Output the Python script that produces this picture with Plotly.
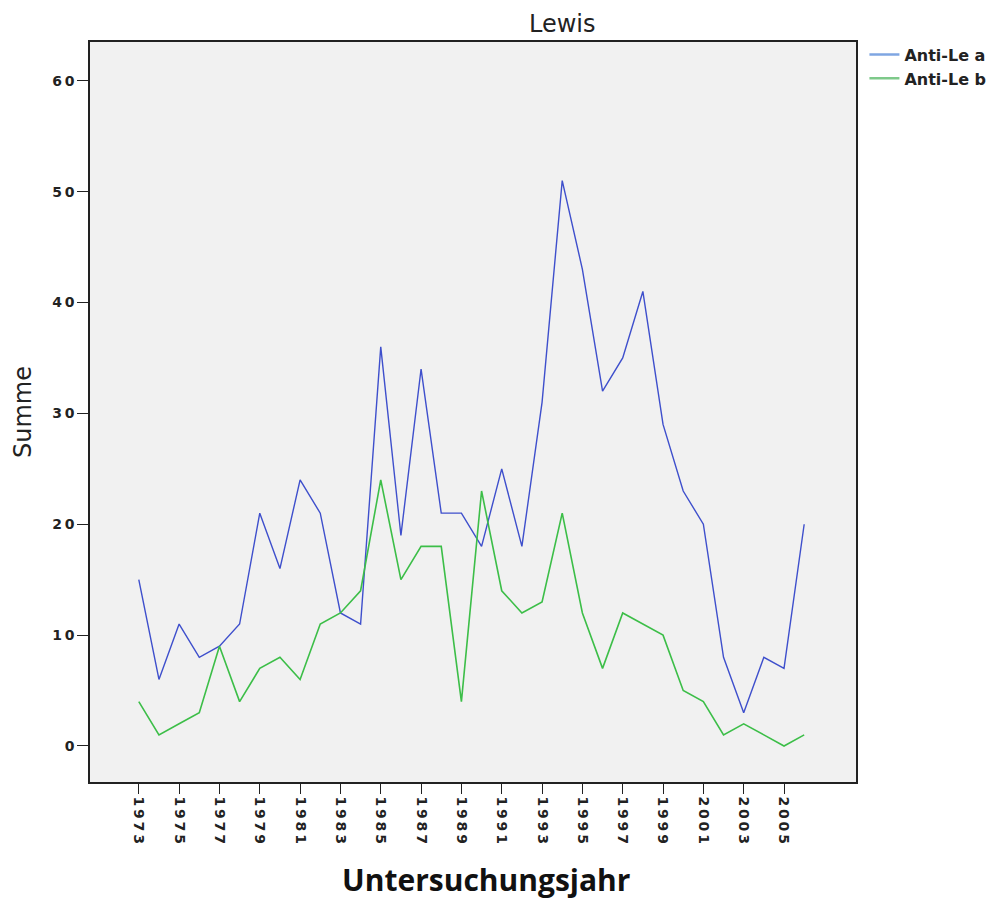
import plotly.graph_objects as go

years = list(range(1973, 2007))
anti_le_a = [15, 6, 11, 8, 9, 11, 21, 16, 24, 21, 12, 11, 36, 19, 34, 21, 21, 18,
             25, 18, 31, 51, 43, 32, 35, 41, 29, 23, 20, 8, 3, 8, 7, 20]
anti_le_b = [4, 1, 2, 3, 9, 4, 7, 8, 6, 11, 12, 14, 24, 15, 18, 18, 4, 23,
             14, 12, 13, 21, 12, 7, 12, 11, 10, 5, 4, 1, 2, 1, 0, 1]
x_ticks = list(range(1973, 2006, 2))
y_ticks = [0, 10, 20, 30, 40, 50, 60]

THIN = "\u2009"


def spaced(v):
    return THIN.join(str(v))


fig = go.Figure()
fig.add_trace(go.Scatter(x=years, y=anti_le_a, mode="lines", name="Anti-Le a",
                         line=dict(color="#3E4FCC", width=1.4), showlegend=False))
fig.add_trace(go.Scatter(x=years, y=anti_le_b, mode="lines", name="Anti-Le b",
                         line=dict(color="#3CBE48", width=1.6), showlegend=False))
# legend entries (lighter legend swatches as in the reference)
fig.add_trace(go.Scatter(x=[None], y=[None], mode="lines", name="Anti-Le a",
                         line=dict(color="#7FA6E2", width=2.5)))
fig.add_trace(go.Scatter(x=[None], y=[None], mode="lines", name="Anti-Le b",
                         line=dict(color="#7EC98A", width=2.5)))

tickfont = dict(family="DejaVu Sans", size=14, weight="bold", color="#222")

fig.update_layout(
    width=995, height=901,
    margin=dict(l=82, r=145, t=34, b=127),
    paper_bgcolor="white",
    plot_bgcolor="#F1F1F1",
    font=dict(family="DejaVu Sans", color="#222"),
    legend=dict(x=1.011, y=1.006, xanchor="left", yanchor="top",
                bgcolor="rgba(0,0,0,0)", tracegroupgap=0,
                font=dict(family="DejaVu Sans", size=16, color="#222", weight="bold"),
                itemwidth=30),
    xaxis=dict(range=[1970.58, 2008.57], tickvals=x_ticks, ticktext=[spaced(v) for v in x_ticks],
               tickangle=90, ticks="outside", ticklen=10, tickcolor="#222",
               tickfont=tickfont,
               showgrid=False, zeroline=False, showline=True, linecolor="#222", linewidth=1.5,
               mirror=True),
    yaxis=dict(range=[-3.25, 63.5], tickvals=y_ticks, ticktext=[spaced(v) for v in y_ticks],
               ticks="outside", ticklen=11, tickcolor="#222",
               tickfont=tickfont,
               showgrid=False, zeroline=False, showline=True, linecolor="#222", linewidth=1.5,
               mirror=True,
               title=dict(text="Summe", standoff=14,
                          font=dict(family="DejaVu Sans", size=24, color="#222"))),
    annotations=[
        dict(text="Lewis", xref="paper", yref="paper",
             x=0.617, y=1.0243, xanchor="center", yanchor="middle",
             showarrow=False,
             font=dict(family="DejaVu Sans", size=24, color="#222")),
        dict(text="Untersuchungsjahr", xref="paper", yref="paper",
             x=0.517, y=-0.1316, xanchor="center", yanchor="middle",
             showarrow=False,
             font=dict(family="Open Sans", size=30, weight="bold", color="#111")),
    ],
)

fig.write_html("out.html")
